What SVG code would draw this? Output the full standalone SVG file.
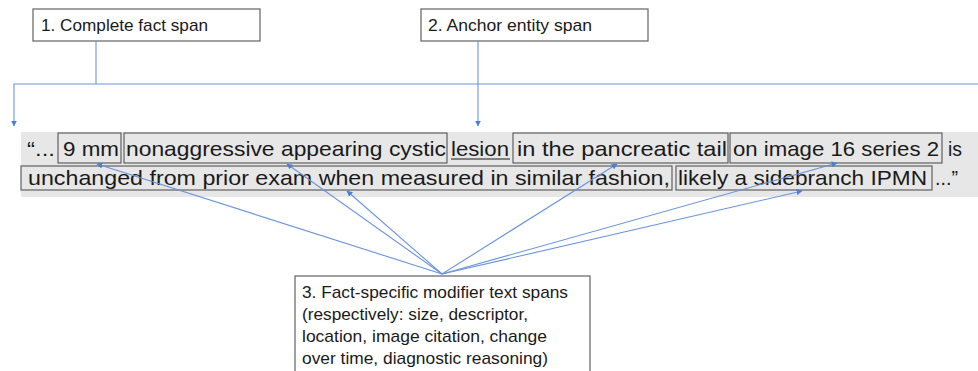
<svg xmlns="http://www.w3.org/2000/svg" width="978" height="371" viewBox="0 0 978 371">
  <style>
    .label { fill: #ffffff; stroke: #6e6e6e; stroke-width: 1.3; }
    .label-text { font-family: "Liberation Sans", Arial, sans-serif; font-size: 17px; fill: #1a1a1a; }
    .band { fill: #e7e7e7; }
    .span { fill: none; stroke: #555555; stroke-width: 1.1; }
    .sent { font-family: "Liberation Sans", Arial, sans-serif; font-size: 21px; fill: #1a1a1a; }
    .conn { fill: none; stroke: #6a94dc; stroke-width: 1.1; }
  </style>
  <defs>
    <marker id="tip" viewBox="0 0 10 10" refX="9" refY="5" markerWidth="6" markerHeight="6" markerUnits="userSpaceOnUse" orient="auto">
      <path d="M0,0 L10,5 L0,10 z" fill="#4f7fd0"/>
    </marker>
  </defs>

  <!-- sentence band -->
  <g id="sentence">
    <rect class="band" x="21" y="132" width="957" height="65"/>
    <!-- line 1 -->
    <rect class="span" x="58" y="133" width="63" height="30"/>
    <rect class="span" x="124" y="133" width="323" height="30"/>
    <rect class="span" x="513" y="133" width="215" height="30"/>
    <rect class="span" x="730" y="133" width="212" height="30"/>
    <text class="sent" x="27" y="155.5" textLength="28" lengthAdjust="spacingAndGlyphs">“...</text>
    <text class="sent" x="63" y="155.5" textLength="56" lengthAdjust="spacingAndGlyphs">9 mm</text>
    <text class="sent" x="126" y="155.5" textLength="320" lengthAdjust="spacingAndGlyphs">nonaggressive appearing cystic</text>
    <text class="sent" x="451" y="155.5" textLength="58" lengthAdjust="spacingAndGlyphs">lesion</text>
    <line x1="451" y1="159" x2="510" y2="159" stroke="#1a1a1a" stroke-width="1.2"/>
    <text class="sent" x="517" y="155.5" textLength="210" lengthAdjust="spacingAndGlyphs">in the pancreatic tail</text>
    <text class="sent" x="733" y="155.5" textLength="206" lengthAdjust="spacingAndGlyphs">on image 16 series 2</text>
    <text class="sent" x="948" y="155.5" textLength="14" lengthAdjust="spacingAndGlyphs">is</text>
    <!-- line 2 -->
    <rect class="span" x="21" y="166" width="651" height="24"/>
    <rect class="span" x="676" y="166" width="256" height="24"/>
    <text class="sent" x="28" y="184.5" textLength="642" lengthAdjust="spacingAndGlyphs">unchanged from prior exam when measured in similar fashion,</text>
    <text class="sent" x="678" y="184.5" textLength="249" lengthAdjust="spacingAndGlyphs">likely a sidebranch IPMN</text>
    <text class="sent" x="935" y="184.5" textLength="23" lengthAdjust="spacingAndGlyphs">...”</text>
  </g>

  <!-- label 1 -->
  <g id="complete-fact">
    <rect class="label" x="33" y="9" width="227" height="32"/>
    <text class="label-text" x="41" y="31" textLength="167" lengthAdjust="spacingAndGlyphs">1. Complete fact span</text>
  </g>

  <!-- label 2 -->
  <g id="anchor-entity">
    <rect class="label" x="421" y="9" width="227" height="32"/>
    <text class="label-text" x="428" y="31" textLength="164" lengthAdjust="spacingAndGlyphs">2. Anchor entity span</text>
  </g>

  <!-- label 3 -->
  <g id="modifiers">
    <rect class="label" x="295" y="276" width="295" height="100"/>
    <text class="label-text" x="302" y="298" textLength="266" lengthAdjust="spacingAndGlyphs">3. Fact-specific modifier text spans</text>
    <text class="label-text" x="302" y="320" textLength="226" lengthAdjust="spacingAndGlyphs">(respectively: size, descriptor,</text>
    <text class="label-text" x="302" y="342" textLength="245" lengthAdjust="spacingAndGlyphs">location, image citation, change</text>
    <text class="label-text" x="302" y="364" textLength="246" lengthAdjust="spacingAndGlyphs">over time, diagnostic reasoning)</text>
  </g>

  <!-- connectors -->
  <g id="connectors">
    <path class="conn" d="M96,41 V84"/>
    <path class="conn" d="M978,84 H14 V126" marker-end="url(#tip)"/>
    <path class="conn" d="M478,41 V126" marker-end="url(#tip)"/>
    <path class="conn" d="M442,274 L97,164" marker-end="url(#tip)"/>
    <path class="conn" d="M442,274 L287,164" marker-end="url(#tip)"/>
    <path class="conn" d="M442,274 L347,191" marker-end="url(#tip)"/>
    <path class="conn" d="M442,274 L617,164" marker-end="url(#tip)"/>
    <path class="conn" d="M442,274 L837,163" marker-end="url(#tip)"/>
    <path class="conn" d="M442,274 L802,191" marker-end="url(#tip)"/>
  </g>
</svg>
